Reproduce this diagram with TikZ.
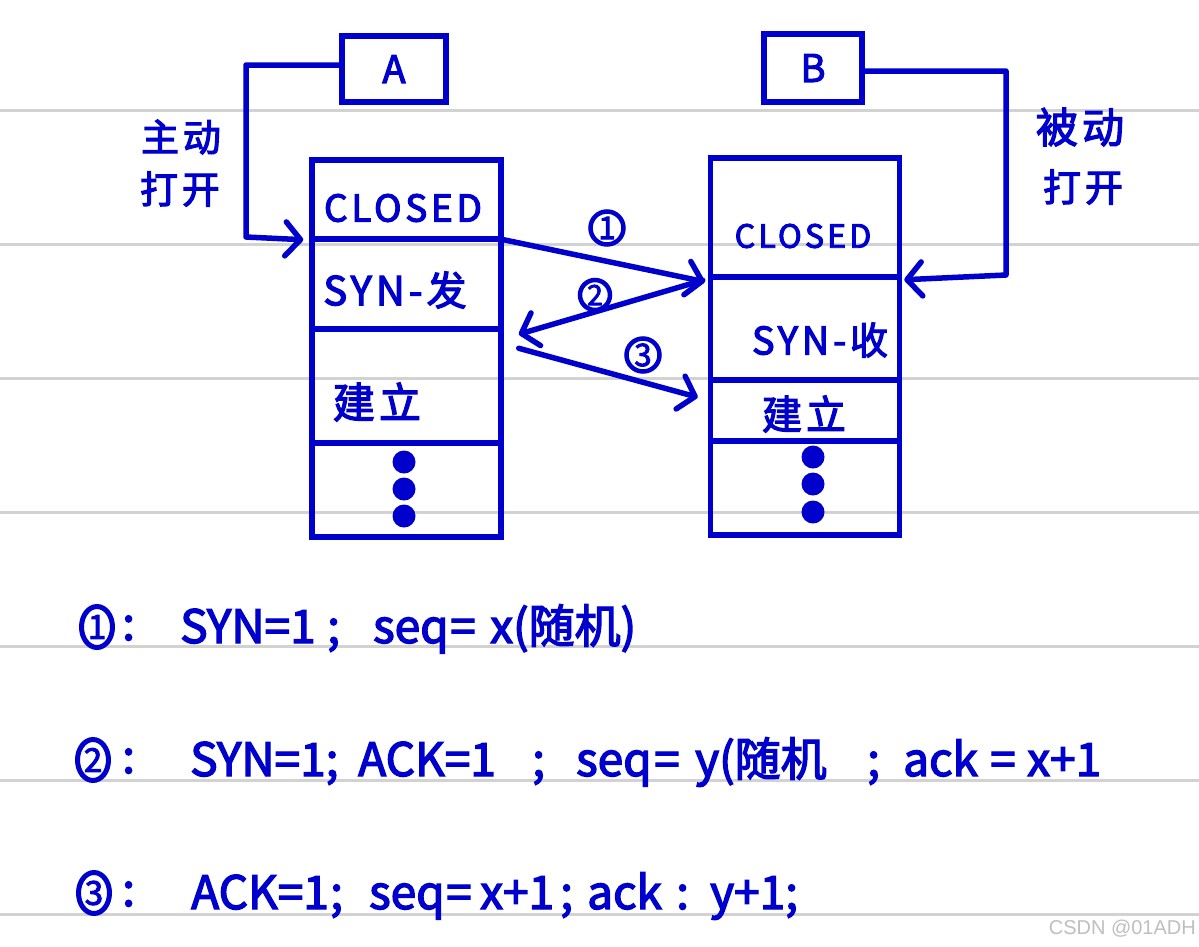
\documentclass[tikz,border=0pt]{standalone}
\usepackage{fontspec}
\setmainfont{Noto Sans CJK SC}[FakeBold=3]
\newfontfamily\wmfont{Liberation Sans}
\usetikzlibrary{arrows.meta,shapes.geometric}
\definecolor{ink}{HTML}{0000CC}
\definecolor{paperrule}{HTML}{D2D2D2}
\newcommand{\bigtxt}[1]{\fontsize{#1}{#1}\selectfont\addfontfeatures{LetterSpace=10}}
\newcommand{\plaintxt}[1]{\fontsize{#1}{#1}\selectfont}
\begin{document}
\begin{tikzpicture}[x=1pt,y=-1pt,
  inkline/.style={draw=ink,line width=5.5pt,line cap=round,line join=round},
  arr/.style={inkline,-{Straight Barb[length=15pt,width=34pt,round]}},
  cell/.style={draw=ink,line width=5.5pt,rectangle,inner sep=0pt,minimum width=189pt},
  namebox/.style={draw=ink,line width=5.5pt,rectangle,inner sep=0pt,text=ink,font=\bigtxt{38}},
  lbl/.style={text=ink,inner sep=0pt},
  dot/.style={circle,fill=ink,inner sep=0pt,minimum size=23pt},
  circnum/.style={circle,draw=ink,line width=4.5pt,text=ink,inner sep=0pt,minimum size=33pt,font=\plaintxt{31}},
  tallnum/.style={ellipse,draw=ink,line width=5pt,text=ink,inner sep=0pt,minimum width=31pt,minimum height=41pt,font=\plaintxt{33}},
  bottomtxt/.style={text=ink,inner sep=0pt,anchor=base west,font=\plaintxt{46}}
]
\useasboundingbox (0,0) rectangle (1199,946);
\fill[white] (0,0) rectangle (1199,946);
% ruled paper
\foreach \yy in {110,244,378,512,646,780,914}
  \draw[paperrule,line width=3pt] (0,\yy) -- (1199,\yy);

% name boxes
\node[namebox,minimum width=104pt,minimum height=66pt] (A) at (394,69) {A};
\node[namebox,minimum width=98pt,minimum height=68pt] (B) at (813,68) {B};

% stack of A
\node[cell,minimum height=79pt] (a1) at (406.5,199.5) {};
\node[cell,minimum height=90pt] (a2) at (406.5,284) {};
\node[cell,minimum height=114pt] (a3) at (406.5,386) {};
\node[cell,minimum height=94pt] (a4) at (406.5,490) {};
% stack of B
\node[cell,minimum height=119pt] (b1) at (805,217.5) {};
\node[cell,minimum height=103pt] (b2) at (805,328.5) {};
\node[cell,minimum height=61pt] (b3) at (805,410.5) {};
\node[cell,minimum height=94pt] (b4) at (805,488) {};

% cell texts
\node[lbl,font=\bigtxt{37}] (ta1) at (403,208) {CLOSED};
\node[lbl,font=\bigtxt{40}] (ta2) at (395,290) {SYN-发};
\node[lbl,font=\bigtxt{42}] (ta3) at (377,402) {建立};
\node[lbl,font=\bigtxt{32}] (tb1) at (803,236) {CLOSED};
\node[lbl,font=\bigtxt{38}] (tb2) at (820,340) {SYN-收};
\node[lbl,font=\bigtxt{40}] (tb3) at (804,414) {建立};
\node[dot] (da1) at (404,462) {};
\node[dot] (da2) at (404,489) {};
\node[dot] (da3) at (404,516) {};
\node[dot] (db1) at (813,457) {};
\node[dot] (db2) at (813,484) {};
\node[dot] (db3) at (813,512) {};

% open arrows
\coordinate (ca) at (246,237);
\coordinate (cb) at (1006,275);
\draw[arr] ([yshift=4pt]A.west) -| (ca) -- ([xshift=-6pt,yshift=2pt]a1.south west);
\draw[arr] ([yshift=-3pt]B.east) -| (cb) -- ([xshift=2pt]b1.south east);
\node[lbl,font=\bigtxt{38}] (lA1) at (181,137) {主动};
\node[lbl,font=\bigtxt{38}] (lA2) at (180,189) {打开};
\node[lbl,font=\bigtxt{42}] (lB1) at (1080,127) {被动};
\node[lbl,font=\bigtxt{38}] (lB2) at (1083,187) {打开};

% handshake messages
\draw[arr] ([yshift=2pt]a1.south east) -- ([xshift=-3pt,yshift=-2pt]b1.south west);
\draw[arr] ([shift={(-5,6)}]b2.north west) -- ([shift={(15,8)}]a3.north east);
\draw[arr] ([shift={(15,22)}]a3.north east) -- ([shift={(-10,20)}]b3.north west);
\node[circnum] (m1) at (607,228) {1};
\node[circnum,minimum size=30pt,font=\plaintxt{28}] (m2) at (595,295) {2};
\node[circnum] (m3) at (643,355) {3};

% explanations
\node[tallnum] (e1) at (97,627) {1};
\node[bottomtxt] (e1a) at (122,640) {:};
\node[bottomtxt] (e1b) at (180,643) {SYN=1};
\node[bottomtxt] (e1c) at (327,643) {;};
\node[bottomtxt] (e1d) at (373,643) {seq};
\node[bottomtxt] (e1e) at (450,643) {=};
\node[bottomtxt] (e1f) at (490,643) {x(随机)};

\node[tallnum] (e2) at (93,760) {2};
\node[bottomtxt] (e2a) at (122,773) {:};
\node[bottomtxt] (e2b) at (190,776) {SYN=1;};
\node[bottomtxt] (e2c) at (358,776) {ACK=1};
\node[bottomtxt] (e2d) at (532,776) {;};
\node[bottomtxt] (e2e) at (576,776) {seq};
\node[bottomtxt] (e2f) at (654,776) {=};
\node[bottomtxt] (e2g) at (695,776) {y(随机};
\node[bottomtxt] (e2h) at (867,776) {;};
\node[bottomtxt] (e2i) at (903,776) {ack};
\node[bottomtxt] (e2j) at (990,776) {=};
\node[bottomtxt] (e2k) at (1027,776) {x+1};

\node[tallnum] (e3) at (94,893) {3};
\node[bottomtxt] (e3a) at (122,906) {:};
\node[bottomtxt] (e3b) at (191,909) {ACK=1};
\node[bottomtxt] (e3c) at (330,909) {;};
\node[bottomtxt] (e3d) at (369,909) {seq};
\node[bottomtxt] (e3e) at (446,909) {=};
\node[bottomtxt] (e3f) at (480,909) {x+1};
\node[bottomtxt] (e3g) at (560,909) {;};
\node[bottomtxt] (e3h) at (587,909) {ack};
\node[bottomtxt] (e3i) at (676,909) {:};
\node[bottomtxt] (e3j) at (710,909) {y+1;};

\node[anchor=base east,inner sep=0pt,text=black!25,font=\wmfont\fontsize{20}{20}\selectfont] (wm) at (1196,934) {CSDN @01ADH};
\end{tikzpicture}
\end{document}
